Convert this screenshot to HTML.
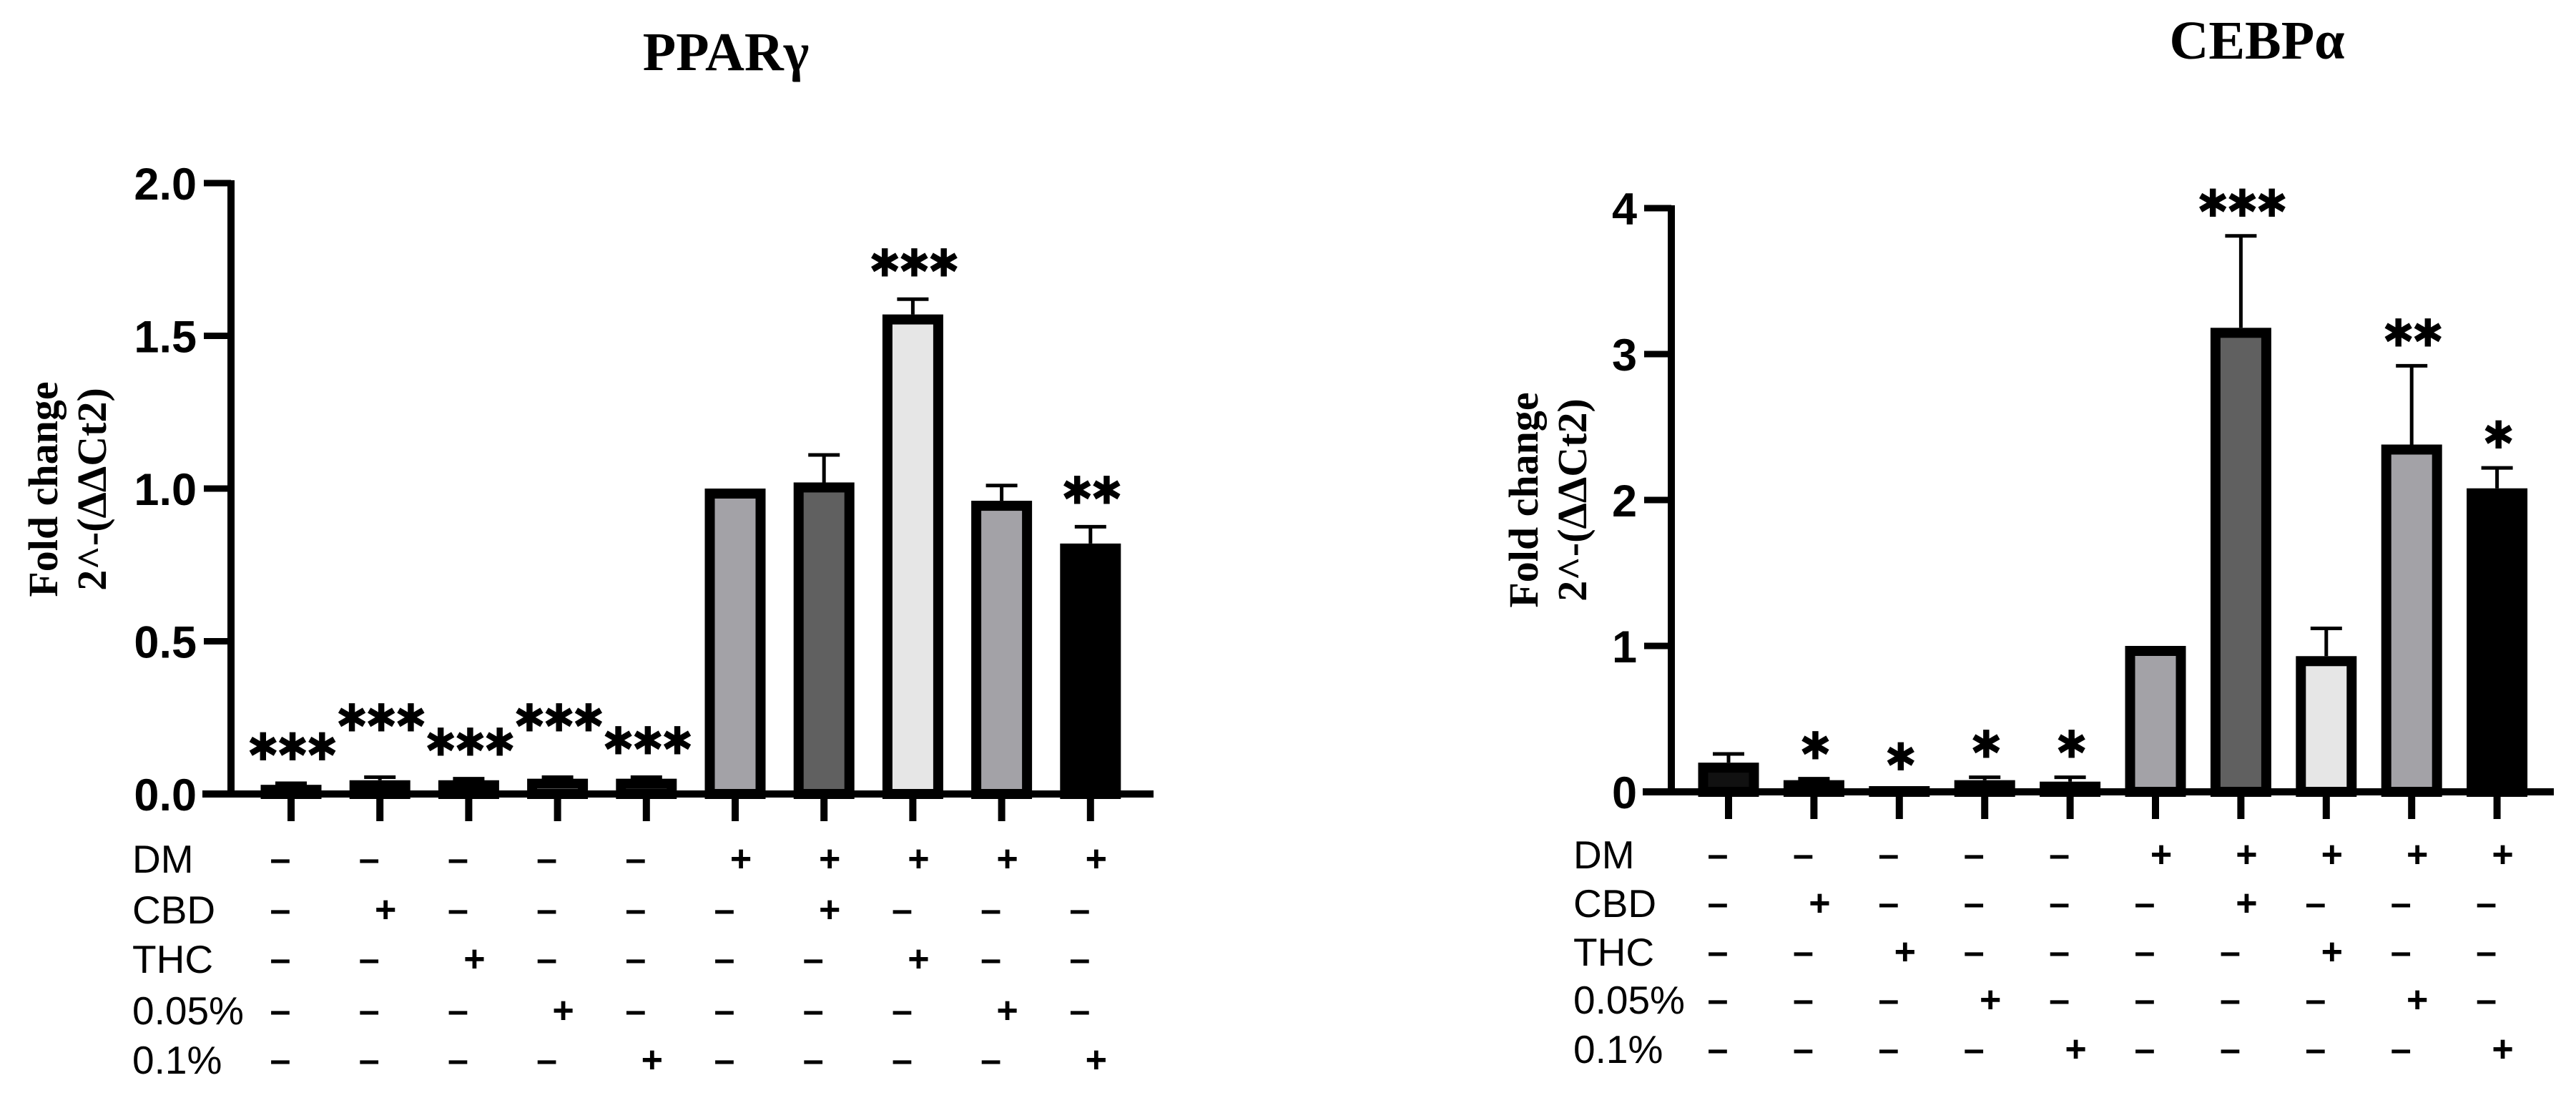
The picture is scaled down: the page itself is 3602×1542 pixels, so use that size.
<!DOCTYPE html>
<html><head><meta charset="utf-8"><style>
html,body{margin:0;padding:0;background:#fff;}
svg{display:block;}
</style></head><body>
<svg id="fig" width="3602" height="1542" viewBox="0 0 3602 1542" xmlns="http://www.w3.org/2000/svg"></svg>
<script>
const categories = ["1","2","3","4","5","6","7","8","9","10"];
const rowNames = ["DM","CBD","THC","0.05%","0.1%"];
const signs = [
 ["-","-","-","-","-","+","+","+","+","+"],
 ["-","+","-","-","-","-","+","-","-","-"],
 ["-","-","+","-","-","-","-","+","-","-"],
 ["-","-","-","+","-","-","-","-","+","-"],
 ["-","-","-","-","+","-","-","-","-","+"]
];
const pparColors = ["#111","#a3a2a7","#808080","#e6e6e6","#606060","#a3a2a7","#606060","#e6e6e6","#a3a2a7","#000"];
const cebpColors = ["#111","#a3a2a7","#808080","#e6e6e6","#606060","#a3a2a7","#606060","#e6e6e6","#a3a2a7","#000"];
const pparValues = [0.03,0.045,0.045,0.05,0.05,1.0,1.02,1.57,0.96,0.82];
const pparErr = [0.035,0.055,0.05,0.055,0.055,1.0,1.11,1.62,1.01,0.875];
const pparStars = ["***","***","***","***","***","","","***","","**"];
const pparTicks = [0,0.5,1.0,1.5,2.0];
const pparTickLabels = ["0.0","0.5","1.0","1.5","2.0"];
const cebpValues = [0.2,0.08,0.01,0.08,0.07,1.0,3.18,0.93,2.38,2.08];
const cebpErr = [0.26,0.09,0.015,0.1,0.1,1.0,3.81,1.12,2.92,2.22];
const cebpStars = ["","*","*","*","*","","***","","**","*"];
const cebpTicks = [0,1,2,3,4];
const cebpTickLabels = ["0","1","2","3","4"];

const NS="http://www.w3.org/2000/svg";
const svg=document.getElementById('fig');
function el(tag,attrs,parent){const e=document.createElementNS(NS,tag);for(const k in attrs)e.setAttribute(k,attrs[k]);(parent||svg).appendChild(e);return e;}

function drawChart(o){
  const g=el('g',{});
  
  
  const y=v=>o.y0-(v/o.max)*(o.y0-o.yTop);
  const x=i=>o.x0+i*o.step;
  const t=el('text',{x:o.titleX,y:o.titleY,'font-family':'Liberation Serif, serif','font-weight':'bold','font-size':76,'text-anchor':'middle'},g);
  t.textContent=o.title;
  
  
  const yl=el('text',{transform:`translate(${o.ylX},${o.ylY}) rotate(-90)`,'font-family':'Liberation Serif, serif','font-weight':'bold','font-size':58,'text-anchor':'middle'},g);
  
  
  const s1=el('tspan',{x:0,dy:0},yl);s1.textContent='Fold change';
  const s2=el('tspan',{x:0,dy:68},yl);s2.textContent='2^-(ΔΔCt2)';
  o.values.forEach((v,i)=>{
    const cx=x(i),w=71,top=Math.min(y(v)+7,o.y0-1);
    const h=Math.max(o.y0-top,1);
    const r=el('rect',{x:cx-w/2,y:top,width:w,height:h,fill:o.colors[i],stroke:'#000','stroke-width':14},g);
    
    
    if(o.err[i]>v+0.001){
      const e=el('path',{d:`M${cx} ${y(v)} V${y(o.err[i])} M${cx-22} ${y(o.err[i])} H${cx+22}`,stroke:'#000','stroke-width':5,fill:'none'},g);
      
      
    }
    if(o.stars[i]){
      const lift=(o.alternate && o.values[i]<0.2 && i%2===1)?32:0;
      const st=el('text',{x:cx,y:y(Math.max(o.err[i],v))-o.starGap+18-lift,'font-family':'DejaVu Sans, sans-serif','font-weight':'bold','font-size':54,'text-anchor':'middle','letter-spacing':-4},g);
      st.textContent=o.stars[i].replace(/\*/g,'✱');
      
      
    }
    const tk=el('line',{x1:cx,x2:cx,y1:o.y0,y2:o.y0+38,stroke:'#000','stroke-width':10},g);
    
    
  });
  const ya=el('line',{x1:o.ax,x2:o.ax,y1:o.yTop-4,y2:o.y0+4,stroke:'#000','stroke-width':10},g);
  
  const xa=el('line',{x1:o.ax-40,x2:o.xEnd,y1:o.y0,y2:o.y0,stroke:'#000','stroke-width':10},g);
  
  o.ticks.forEach((tv,j)=>{
    const ty=y(tv);
    const l=el('line',{x1:o.ax-38,x2:o.ax,y1:ty,y2:ty,stroke:'#000','stroke-width':9},g);
    
    const lt=el('text',{x:o.ax-48,y:ty+23,'font-family':'Liberation Sans, sans-serif','font-weight':'bold','font-size':63,'text-anchor':'end'},g);
    lt.textContent=o.tickLabels[j];
    
  });
  rowNames.forEach((rn,r)=>{
    const ry=o.rowY[r];
    const lt=el('text',{x:o.rowX,y:ry+20,'font-family':'Liberation Sans, sans-serif','font-size':55,'text-anchor':'start'},g);
    lt.textContent=rn;
    
    signs[r].forEach((sg,i)=>{
      const st=el('text',{x:x(i)+(sg==='+'?8:-15),y:ry+18,'font-family':'Liberation Sans, sans-serif','font-weight':'bold','font-size':52,'text-anchor':'middle'},g);
      st.textContent=sg==='+'?'+':'–';
      
    });
  });
}
drawChart({name:'ppar-gamma-chart',title:'PPARγ',titleX:1015,titleY:98,ylX:80,ylY:684,
  ax:323,x0:407,step:124.2,xEnd:1613,yTop:256,y0:1110,max:2,colors:pparColors,alternate:true,
  values:pparValues,err:pparErr,stars:pparStars,starGap:50,ticks:pparTicks,tickLabels:pparTickLabels,
  rowX:185,rowY:[1200,1271,1340,1412,1481]});
drawChart({name:'cebp-alpha-chart',title:'CEBPα',titleX:3156,titleY:82,ylX:2150,ylY:699,
  ax:2337,x0:2417,step:119.4,xEnd:3571,yTop:291,y0:1107,max:4,colors:cebpColors,alternate:false,
  values:cebpValues,err:cebpErr,stars:cebpStars,starGap:45,ticks:cebpTicks,tickLabels:cebpTickLabels,
  rowX:2200,rowY:[1194,1262,1330,1397,1466]});
</script>
</body></html>
